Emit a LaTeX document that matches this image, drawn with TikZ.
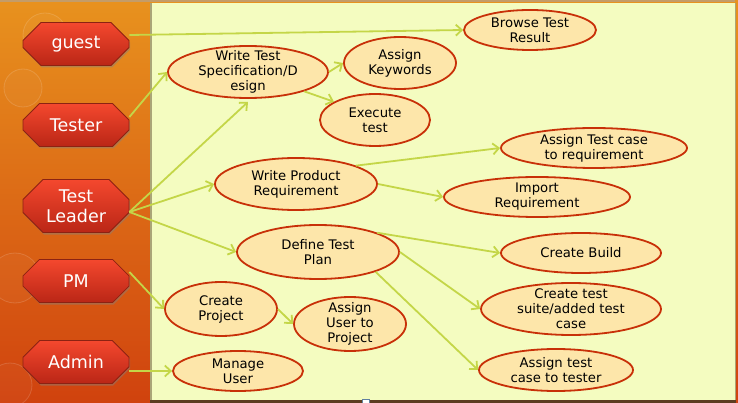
\documentclass[tikz,border=0pt]{standalone}
\usepackage{fontspec}
\setmainfont{DejaVu Sans}
\usetikzlibrary{shapes.geometric,shapes.misc,shadows,arrows.meta,calc}
\definecolor{bgtop}{RGB}{232,146,30}
\definecolor{bgmid}{RGB}{222,108,24}
\definecolor{bgbot}{RGB}{208,66,14}
\definecolor{panelfill}{RGB}{244,252,192}
\definecolor{paneledge}{RGB}{170,165,120}
\definecolor{panelbot}{RGB}{92,60,32}
\definecolor{topstrip}{RGB}{196,156,104}
\definecolor{ucfill}{RGB}{253,230,170}
\definecolor{ucborder}{RGB}{200,48,8}
\definecolor{lineclr}{RGB}{196,214,72}
\definecolor{acttop}{RGB}{244,72,46}
\definecolor{actbot}{RGB}{186,38,22}
\definecolor{actbord}{RGB}{140,34,18}
\definecolor{handle}{RGB}{96,128,160}
\tikzset{
  uc/.style={ellipse, draw=ucborder, line width=1.8pt, fill=ucfill, inner sep=0pt},
  uct/.style={text=black, font=\fontsize{13.2}{15}\selectfont, align=center, inner sep=0pt},
  actor/.style={chamfered rectangle, chamfered rectangle xsep=10pt, chamfered rectangle ysep=10pt,
    minimum width=106pt, minimum height=43pt, inner sep=0pt, draw=actbord, line width=0.8pt,
    top color=acttop, bottom color=actbot, text=white,
    font=\fontsize{17.5}{20}\selectfont, align=center,
    drop shadow={shadow xshift=1pt, shadow yshift=-2pt, opacity=0.45}},
  conn/.style={draw=lineclr, line width=1.8pt, -{Straight Barb[length=6pt,width=11pt]}},
  bokeh/.style={draw=white, draw opacity=0.15, fill=white, fill opacity=0.03, line width=0.8pt}
}
\begin{document}
\begin{tikzpicture}[x=1pt,y=-1pt]
\useasboundingbox (0,0) rectangle (738,403);
% background
\shade[top color=bgtop, middle color=bgmid, bottom color=bgbot] (0,0) rectangle (738,403);
\path[bokeh] (45,35) circle[radius=22pt];
\path[bokeh] (23,88) circle[radius=19pt];
\path[bokeh] (15,278) circle[radius=25pt];
\path[bokeh] (10,385) circle[radius=22pt];
% top strip
\fill[topstrip] (0,0) rectangle (735,2.5);
% panel
\fill[panelfill] (151,3) rectangle (735,400);
\draw[paneledge, line width=2pt] (151,3) -- (151,401);
\draw[paneledge, line width=0.8pt] (735,3) -- (735,400);
\draw[panelbot, line width=2.5pt] (150,401.5) -- (736,401.5);
\draw[handle, fill=white, line width=0.8pt] (362,399) rectangle (369,404);

% actors
\node[actor] (guest)  at (76,44)  {guest};
\node[actor] (tester) at (76,125) {Tester};
\node[actor] (tl)     at (76,206) {Test\\Leader};
\node[actor] (pm)     at (76,281) {PM};
\node[actor] (admin)  at (76,362) {Admin};

% use cases
\node[uc, minimum width=132pt, minimum height=40pt, label={[uct]center:{Browse Test\\Result}}] (bro) at (530,30) {};
\node[uc, minimum width=160pt, minimum height=52pt, label={[uct]center:{Write Test\\Specification/D\\esign}}] (wts) at (248,72) {};
\node[uc, minimum width=112pt, minimum height=52pt, label={[uct]center:{Assign\\Keywords}}] (ak) at (400,63) {};
\node[uc, minimum width=110pt, minimum height=52pt, label={[uct]center:{Execute\\test}}] (et) at (375,120) {};
\node[uc, minimum width=162pt, minimum height=52pt, label={[uct]center:{Write Product\\Requirement}}] (wpr) at (296,184) {};
\node[uc, minimum width=186pt, minimum height=40pt, label={[uct]center:{Assign Test case\\to requirement}}] (atr) at (594,148) {};
\node[uc, minimum width=186pt, minimum height=40pt, label={[uct]center:{Import\\Requirement}}] (ir) at (537,197) {};
\node[uc, minimum width=162pt, minimum height=54pt, label={[uct]center:{Define Test\\Plan}}] (dtp) at (318,252) {};
\node[uc, minimum width=160pt, minimum height=40pt, label={[uct]center:{Create Build}}] (cb) at (581,253) {};
\node[uc, minimum width=180pt, minimum height=52pt, label={[uct]center:{Create test\\suite/added test\\case}}] (cts) at (571,309) {};
\node[uc, minimum width=154pt, minimum height=42pt, label={[uct]center:{Assign test\\case to tester}}] (atct) at (556,370) {};
\node[uc, minimum width=112pt, minimum height=54pt, label={[uct]center:{Create\\Project}}] (cp) at (221,309) {};
\node[uc, minimum width=112pt, minimum height=54pt, label={[uct]center:{Assign\\User to\\Project}}] (aup) at (350,324) {};
\node[uc, minimum width=130pt, minimum height=40pt, label={[uct]center:{Manage\\User}}] (mu) at (238,371) {};

% connectors from actors
\draw[conn] ($(guest.east)+(0,-9)$) -- (bro.west);
\draw[conn] ($(tester.east)+(0,-8)$) -- (wts.west);
\draw[conn] ($(tl.east)+(0,6)$) -- ($(wts.south)+(0,3)$);
\draw[conn] ($(tl.east)+(0,6)$) -- (wpr.west);
\draw[conn] ($(tl.east)+(0,6)$) -- (dtp.west);
\draw[conn] ($(pm.east)+(0,-9)$) -- (cp.west);
\draw[conn] ($(admin.east)+(0,9)$) -- (mu.west);
% connectors between use cases
\draw[conn] (wts.east) -- (ak.west);
\draw[conn] (wts.-19) -- (et.156);
\draw[conn] (wpr.17) -- (atr.west);
\draw[conn] (wpr.east) -- (ir.west);
\draw[conn] (dtp.18) -- (cb.west);
\draw[conn] (dtp.east) -- (cts.west);
\draw[conn] (dtp.-19) -- (atct.west);
\draw[conn] (cp.east) -- (aup.west);
\end{tikzpicture}
\end{document}
